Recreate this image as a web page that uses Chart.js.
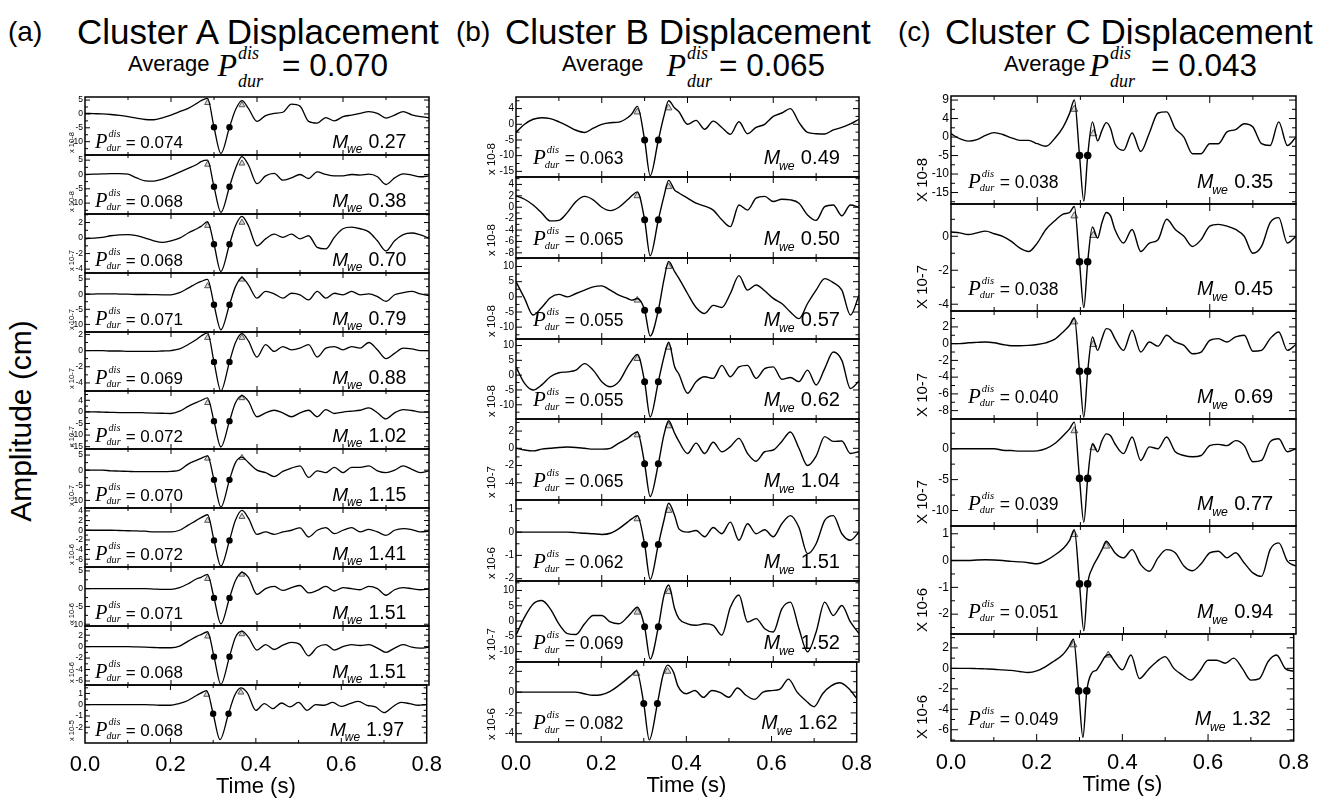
<!DOCTYPE html>
<html>
<head>
<meta charset="utf-8">
<script src="https://cdn.jsdelivr.net/npm/chart.js@4.4.1/dist/chart.umd.min.js"></script>
<style>
  html, body { margin: 0; padding: 0; background: #fff; }
  body { width: 1326px; height: 798px; position: relative; overflow: hidden;
         font-family: "Liberation Sans", Arial, sans-serif; color: #000; }
  .tag, .ttl, .sub { position: absolute; white-space: nowrap; line-height: 1; }
  .tag { font-size: 28px; }
  .ttl { font-size: 35px; }
  .sub { font-size: 31.5px; top: 39px; }
  .sub .avg { font-size: 22px; vertical-align: 5.5px; }
  .sub .P { font: italic 32px "Liberation Serif", serif; }
  .sub .ss { display: inline-flex; flex-direction: column; font: italic 18px "Liberation Serif", serif;
             line-height: 28px; vertical-align: 17px; margin-left: 1px; }
  .ylab { position: absolute; left: 21px; top: 421px; font-size: 30px; white-space: nowrap; line-height: 1;
          transform: translate(-50%, -50%) rotate(-90deg); }
</style>
</head>
<body>
<div class="tag" style="left:8px;top:18px">(a)</div>
<div class="ttl" style="left:77px;top:14px">Cluster A Displacement</div>
<div class="sub" style="left:128px"><span class="avg" style="margin-right:8px">Average</span><span class="P">P</span><span class="ss" style="margin-right:19px"><span>dis</span><span>dur</span></span>= 0.070</div>

<div class="tag" style="left:456px;top:18px">(b)</div>
<div class="ttl" style="left:505px;top:14px">Cluster B Displacement</div>
<div class="sub" style="left:562px"><span class="avg" style="margin-right:23px">Average</span><span class="P">P</span><span class="ss" style="margin-right:7px"><span>dis</span><span>dur</span></span>= 0.065</div>

<div class="tag" style="left:898px;top:18px">(c)</div>
<div class="ttl" style="left:945px;top:14px">Cluster C Displacement</div>
<div class="sub" style="left:1004px"><span class="avg" style="margin-right:4px">Average</span><span class="P">P</span><span class="ss" style="margin-right:16px"><span>dis</span><span>dur</span></span>= 0.043</div>

<div class="ylab">Amplitude (cm)</div>
<div id="wrap"></div>

<script>
// ---------- Cluster A ----------
const timeA = [0, 0.02, 0.04, 0.06, 0.08, 0.10, 0.12, 0.14, 0.16, 0.18, 0.20, 0.22, 0.24,
  0.26, 0.27, 0.285, 0.30, 0.316, 0.336, 0.35, 0.365, 0.38,
  0.40, 0.42, 0.44, 0.46, 0.48, 0.50, 0.52, 0.54, 0.56, 0.58, 0.60, 0.62, 0.64, 0.66, 0.68, 0.70, 0.72, 0.74, 0.76, 0.78, 0.80];

const a1 = [0.2, 0.1, 0, -0.2, -0.5, -1.0, -1.5, -2.0, -2.1, -1.4, -0.4, 0.8, 2.0,
  3.8, 4.8, 5.6, -4.8, -14.2, -4.8, 1.5, 4.8, 2.0,
  -2.7, -0.6, 0.2, 0.6, 3.5, 2.8, -2.7, -3.3, -1.3, -2.5, -1.0, -0.4, 0.2, 0.8, 0.2, -1.5, -0.4, 0.8, -0.3, -1.0, -1.4];
const a2 = [0, 0.1, 0.2, 0.3, 0.3, 0.1, -1.2, -2.2, -2.3, -1.6, -0.5, 0.8, 2.1,
  3.5, 4.5, 5.0, -4.3, -13.2, -4.3, 2.1, 6.2, 3.3,
  -3.2, -0.5, 0.4, -2.0, -1.2, 0.0, -1.4, 0.9, 0.0, -0.5, -0.5, 0.0, -0.2, 0.1, -0.8, -3.5, -1.2, 0.2, -0.2, -0.8, -0.5];
const a3 = [-0.1, 0.0, 0.1, 0.3, 0.4, 0.45, 0.3, 0.0, -0.35, -0.55, -0.35, 0.0, 0.65,
  1.2, 1.5, 2.1, -0.8, -4.3, -0.8, 1.6, 2.8, 1.6,
  -1.0, -0.1, 0.5, 0.1, 0.5, -0.1, 0.3, -1.2, -1.4, 0.1, 1.2, 1.4, 1.2, 0.8, -0.35, -1.65, -0.35, 0.45, 0.65, 0.4, 0.0];
const a4 = [0, 0.05, 0.1, 0.1, 0.05, 0, -0.1, -0.1, -0.15, -0.2, -0.2, 0.5, 2.0,
  3.6, 4.2, 4.9, -3.5, -11.8, -3.5, 2.5, 5.5, 3.1,
  -1.3, 0.9, 0.1, -1.3, 0.3, -0.2, -1.9, 0.9, -1.3, 0.3, -0.2, 0.9, -0.2, 0.1, -0.8, -2.4, -0.2, 0.5, 0.9, 0.1, -0.5];
const a5 = [0, 0, 0, -0.05, -0.05, -0.1, -0.1, -0.1, -0.1, -0.05, 0, 0.2, 0.75,
  1.4, 1.8, 2.2, -1.4, -5.0, -1.4, 1.0, 2.1, 1.2,
  -0.8, 0.75, -0.1, 0.5, 0.1, 0.3, 0.75, -0.8, 0.3, 0.5, 0.1, 0.5, 0.3, 1.0, 0.1, -1.0, -0.35, 0.3, 0.2, 0.0, 0.0];
const a6 = [0, 0, -0.1, -0.2, -0.3, -0.3, -0.3, -0.4, -0.5, -0.6, -0.7, 0.3, 2.4,
  4.1, 4.9, 6.0, -4.0, -15.1, -4.0, 3.9, 7.0, 4.6,
  -2.1, -0.4, 0.7, -0.4, -2.1, -0.4, 0.7, -2.1, 1.0, -0.7, -0.1, 0.3, 0.7, 1.7, -0.4, -3.0, -0.4, 1.0, 0.6, -0.1, -0.1];
const a7 = [0, 0, 0, -0.2, -0.3, -0.4, -0.5, -0.5, -0.5, -0.5, -0.4, 0.0, 2.0,
  3.3, 3.9, 4.7, -3.2, -12.2, -3.2, 2.5, 4.3, 2.5,
  0.0, -0.8, -2.1, -0.4, 0.7, 1.4, -2.4, -0.2, -0.8, 0.9, -0.8, 0.9, 0.9, 1.4, -0.2, -0.8, 0.0, 1.4, 0.3, -0.8, -0.2];
const a8 = [0, 0, 0, 0, -0.05, -0.1, -0.15, -0.2, -0.35, -0.35, -0.35, 0, 1.05,
  2.1, 2.6, 3.2, -2.1, -7.4, -2.1, 2.1, 4.1, 2.5,
  -0.85, -0.35, -0.85, -0.35, 0, 0.5, -1.4, 0, 0.55, -0.7, 0, 0.55, -0.35, 0.2, -0.35, -1.05, 0, 0.35, 0.15, -0.35, -0.2];
const a9 = [0, 0, 0, 0, 0, 0, 0, 0, -0.1, -0.2, -0.2, 0.3, 1.4,
  2.8, 3.2, 4.0, -2.6, -9.9, -2.6, 2.3, 4.6, 3.2,
  -1.6, 0, 0.65, -0.5, 0.3, 0.9, -1.2, -0.5, 0.65, -0.65, 0.3, 0, -0.3, 0.65, 0, -1.85, -0.3, 0.3, 0, -0.3, -0.1];
const a10 = [0, 0, 0, 0, 0, 0, -0.05, -0.1, -0.15, -0.2, -0.2, 0.1, 0.95,
  1.8, 2.1, 2.6, -1.75, -6.6, -1.75, 1.65, 2.7, 1.65,
  -0.6, 0.35, -0.5, 0.25, 0.75, 0.35, -1.6, -0.1, 0.35, -0.6, 0, 0.35, 0.2, 0.35, -0.25, -1.0, -0.25, 0.35, -0.1, -0.25, -0.1];
const a11 = [0, 0, 0, 0, 0, 0, 0, 0, -0.02, -0.05, -0.05, 0.1, 0.35,
  0.8, 1.0, 1.25, -0.8, -3.1, -0.8, 0.8, 1.5, 1.05,
  -0.5, 0.1, -0.35, 0.15, -0.2, 0.2, -0.5, 0, -0.05, 0.2, -0.15, 0.1, 0.3, -0.05, -0.2, -0.7, -0.2, 0.2, 0.1, -0.05, 0];

const rangeA = [[-14.8, 6.1], [-13.8, 6.8], [-4.5, 3.1], [-12.5, 7], [-5, 2.3], [-16, 9], [-12.5, 7], [-7.6, 4.6], [-10.5, 6.1], [-6.7, 3.6], [-3.4, 1.75]];
const ticksA = [[5, 0, -5, -10], [5, 0, -5, -10], [2, 0, -2, -4], [5, 0, -5, -10], [2, 0, -2, -4], [5, 0, -5, -10, -15],
  [5, 0, -5, -10], [4, 2, 0, -2, -4, -6], [5, 0, -5, -10], [2, 0, -2, -4, -6], [1, 0, -1, -2]];
const relabelA = { 5: { 5: '4' } };
const expA = ['-8', '-8', '-7', '-7', '-7', '-7', '-7', '-6', '-6', '-6', '-5'];
const pdurA = ['0.074', '0.068', '0.068', '0.071', '0.069', '0.072', '0.070', '0.072', '0.071', '0.068', '0.068'];
const mweA = ['0.27', '0.38', '0.70', '0.79', '0.88', '1.02', '1.15', '1.41', '1.51', '1.51', '1.97'];
const triTimeA = [0.285, 0.365];
const triA = [[4.0, 3.2], [3.5, 3.9], [1.6, 2.0], [2.7, 4.9], [1.6, 1.6], [3.9, 6.0], [3.9, 4.1], [2.0, 2.8], [2.8, 4.0], [1.8, 2.2], [0.9, 1.1]];
const dotTimeA = [0.30, 0.336];

// ---------- Cluster B ----------
const timeB = [0, 0.02, 0.04, 0.06, 0.08, 0.10, 0.12, 0.14, 0.16, 0.18, 0.20, 0.22, 0.24,
  0.26, 0.27, 0.283, 0.30, 0.313, 0.332, 0.345, 0.356, 0.37, 0.38,
  0.40, 0.42, 0.44, 0.46, 0.48, 0.50, 0.52, 0.54, 0.56, 0.58, 0.60, 0.62, 0.64, 0.66, 0.68, 0.70, 0.72, 0.74, 0.76, 0.78, 0.80];

const b1 = [-2.6, 0, 1.6, 2.1, 1.8, 0.8, -0.5, -1.9, -2.6, -1.25, 0, 0.5, 0.7,
  2.1, 3.3, 5.7, -5.0, -16.4, -5.0, 2.6, 7.5, 5.2, 4.0,
  0.0, 1.25, -1.6, 1.0, -1.0, -3.2, 0.8, -3.0, -1.0, 0.0, 2.5, 3.6, 5.0, 0.6, -2.6, -3.0, -3.1, -1.8, -1.0, 0.1, 1.6];
const b2 = [2.0, 1.4, 0.4, -1.0, -2.4, -2.3, -0.9, 1.0, 1.9, 1.3, 0.0, -0.6, 0.0,
  1.3, 2.0, 2.7, -2.2, -8.5, -2.2, 1.9, 4.7, 3.0, 2.5,
  1.6, 0.7, 0.2, -0.5, -2.2, -3.4, 0.4, -0.5, 1.6, 1.9, 1.0, 1.4, 1.3, 0.7, -1.35, -2.3, 0.1, 0.4, -1.5, 0.4, 0.0];
const b3 = [5.0, -0.5, -6.0, -3.5, -0.3, 0.8, 0.0, 1.1, 2.2, 3.3, 3.6, 2.2, 0.55,
  -0.55, -1.1, -0.55, -4.4, -12.9, -4.4, 5.6, 11.7, 8.3, 6.1,
  1.1, -3.5, -5.5, -2.8, -3.5, 1.1, 7.0, 2.2, 3.9, 2.0, -0.5, -2.2, -5.0, -7.2, -2.2, 2.2, 6.0, 4.7, 2.2, -6.0, 0.5];
const b4 = [2.8, -2.8, -5.0, -3.3, -0.55, 0.8, 1.1, 1.7, 3.9, 1.7, -2.2, -3.9, -2.2,
  2.8, 5.0, 7.0, -2.2, -14.1, -2.2, 6.1, 11.1, 2.8, 0.3,
  -6.1, -2.2, -0.55, -1.1, 3.3, -0.55, 2.8, 3.3, -1.1, 2.2, 2.8, -1.4, -0.8, -2.2, 1.7, -3.3, 2.2, 7.8, 5.0, -4.5, -2.0];
const b5 = [0, -0.2, -0.3, -0.1, 0, 0.1, 0.15, 0.1, 0, -0.1, -0.1, 0, 0.6,
  1.15, 1.55, 1.9, -1.8, -5.6, -1.8, 1.55, 3.2, 1.75, 0.8,
  -0.6, 0.6, -0.6, 0.7, -0.4, 0.2, 1.15, -0.6, -1.5, -0.4, -0.2, 0.8, 1.9, 0.0, -2.0, -0.9, 1.35, 0.8, 0.85, -0.6, -0.4];
const b6 = [0, 0, 0, 0, 0, 0, 0, -0.02, -0.05, -0.07, -0.1, -0.05, 0.15,
  0.43, 0.57, 0.71, -0.53, -2.03, -0.53, 0.5, 1.24, 0.71, 0.14,
  0, 0.07, -0.2, 0.2, -0.07, 0.43, -0.35, 0.36, -0.07, 0.1, -0.2, 0.36, 0.71, 0.2, -0.93, -0.5, 0.5, 0.71, -0.07, -0.35, 0];
const b7 = [-4.6, 1.3, 5.6, 6.7, 4.0, -0.9, -4.1, -4.4, -0.9, 1.8, 1.8, -0.3, -0.9,
  1.3, 2.9, 4.5, -1.9, -12.4, -1.9, 8.3, 11.8, 4.0, 0.8,
  -0.9, -1.4, -0.9, -1.4, -4.6, 4.5, 8.5, -0.3, 0.8, -2.5, -3.6, 4.0, 6.2, -2.5, -10.1, -3.6, 6.2, 1.8, 5.1, -0.3, -4.1];
const b8 = [0, 0, 0, 0, 0, 0, 0, 0, -0.15, -0.3, -0.25, 0.05, 0.6,
  1.25, 1.6, 2.05, -1.1, -4.6, -1.1, 1.6, 2.6, 1.9, 0.6,
  -0.15, 0.15, -0.5, 0.15, -0.05, -0.5, 0.4, -0.3, -0.7, 0, 0.15, 0.3, 1.25, 0, -0.8, -1.4, -0.15, 0.6, 0.9, 0.4, -0.6];

const rangeB = [[-16.8, 8.7], [-8.9, 5.3], [-13.9, 12.8], [-14.8, 12.2], [-6, 3.4], [-2.1, 1.38], [-13.4, 13.1], [-4.8, 2.9]];
const ticksB = [[5, 0, -5, -10, -15], [4, 2, 0, -2, -4, -6, -8], [10, 5, 0, -5, -10], [10, 5, 0, -5, -10],
  [2, 0, -2, -4], [1, 0, -1, -2], [10, 5, 0, -5, -10], [2, 0, -2, -4]];
const relabelB = { 0: { 5: '4' } };
const expB = ['-8', '-8', '-8', '-8', '-7', '-6', '-7', '-6'];
const pdurB = ['0.063', '0.065', '0.055', '0.055', '0.065', '0.062', '0.069', '0.082'];
const mweB = ['0.49', '0.50', '0.57', '0.62', '1.04', '1.51', '1.52', '1.62'];
const triTimeB = [0.283, 0.356];
const triB = [[3.9, 5.2], [2.0, 3.6], [-1.1, 10.0], [5.6, 9.4], [1.55, 2.6], [0.57, 0.93], [2.9, 9.6], [1.8, 2.0]];
const dotTimeB = [0.30, 0.332];

// ---------- Cluster C ----------
const timeC = [0, 0.02, 0.04, 0.06, 0.08, 0.10, 0.12, 0.14, 0.16, 0.18, 0.20, 0.22, 0.24,
  0.26, 0.275, 0.286, 0.298, 0.308, 0.317, 0.328, 0.34, 0.35, 0.36, 0.37, 0.38,
  0.40, 0.42, 0.44, 0.46, 0.48, 0.50, 0.52, 0.54, 0.56, 0.58, 0.60, 0.62, 0.64, 0.66, 0.68, 0.70, 0.72, 0.74, 0.76, 0.78, 0.80];

const c1 = [0.9, -0.45, -1.1, -0.7, 0.45, 1.2, 0.7, -0.2, -0.9, -0.9, -1.8, -2.5, -0.45,
  2.7, 6.4, 10.0, -5.0, -17.3, -5.0, 4.1, -1.0, 1.8, 3.9, 2.3, -1.8,
  -3.6, 1.1, -3.9, 1.1, 6.5, 6.8, 2.3, 0, -4.5, -4.5, -1.8, -1.8, 1.4, 2.0, 3.6, 2.7, -1.8, -2.3, 4.1, -2.3, 0];
const c2 = [0.25, 0.2, 0.1, 0.2, 0.3, 0.15, 0, -0.3, -0.7, -0.9, -0.4, 0.4, 0.9,
  1.3, 1.4, 1.75, -1.5, -4.2, -1.5, 0.55, -0.1, 0.8, 1.4, 1.2, 0.4,
  -0.4, 0.4, -0.9, -0.4, -0.2, 1.0, 0.4, 0, -0.6, -0.2, 0.6, 0.7, 0.6, 0.4, 0, -1.0, -0.6, 0.8, 1.1, -0.4, 0];
const c3 = [0, 0, 0.1, 0.15, 0.2, 0.1, -0.1, -0.25, -0.25, -0.2, -0.1, 0.1, 0.5,
  1.4, 2.2, 3.1, -3.3, -8.8, -3.3, 0.8, -0.8, 0.6, 1.8, 1.6, 0.6,
  -0.8, 1.6, -1.0, 0.2, -0.3, 1.0, 0.2, -0.2, -1.2, -1.0, 0.4, 0.6, 0.2, 0.8, 1.0, -0.9, -0.8, 0.6, 1.4, -0.8, -0.1];
const c4 = [0, 0, 0, 0, 0, 0, -0.25, -0.3, -0.4, -0.4, -0.35, 0, 0.8,
  2.1, 3.2, 4.3, -4.8, -11.9, -4.8, 0.8, -0.5, 1.3, 2.4, 2.1, 0.8,
  -0.8, 1.9, -1.9, 0.3, 0, 1.9, -0.5, -1.1, -1.3, -1.1, 0.5, 0.7, 0.5, 1.3, 0.5, -2.1, -1.9, 1.1, 1.6, -0.5, 0];
const c5 = [0, 0, 0, 0.02, 0.03, 0.02, 0, -0.03, -0.05, -0.08, -0.12, 0.0, 0.2,
  0.45, 0.75, 1.15, -0.87, -2.62, -0.87, -0.27, 0.1, 0.41, 0.72, 0.54, 0.29,
  0.1, 0.41, -0.15, -0.4, 0.1, 0.41, 0.29, -0.2, -0.38, -0.12, 0.29, 0.35, 0.1, 0.29, -0.09, -0.46, -0.59, 0.41, 0.66, -0.02, -0.21];
const c6 = [0, 0, 0, -0.02, -0.05, -0.08, -0.15, -0.2, -0.3, -0.4, -0.25, 0.15, 0.7,
  1.3, 2.1, 2.85, -2.2, -6.75, -2.2, -0.5, -0.15, 0.5, 1.15, 1.35, 0.8,
  -0.15, 1.3, -1.0, -0.15, 0.65, 1.15, 0, -0.65, -1.15, -0.3, 0.8, 0.8, 0.5, 1.0, 0, -1.15, -1.0, 0.65, 1.3, 0, -0.3];

const rangeC = [[-18.1, 11.1], [-4.4, 1.9], [-9, 3.9], [-12.5, 4.8], [-2.74, 1.29], [-7.1, 3.36]];
const ticksC = [[10, 5, 0, -5, -10, -15], [0, -2, -4], [2, 0, -2, -4, -6, -8], [0, -5, -10], [1, 0, -1, -2], [2, 0, -2, -4, -6]];
const relabelC = { 0: { 10: '9', 5: '4' } };
const expC = ['-8', '-7', '-7', '-7', '-6', '-6'];
const pdurC = ['0.038', '0.038', '0.040', '0.039', '0.051', '0.049'];
const mweC = ['0.35', '0.45', '0.69', '0.77', '0.94', '1.32'];
const triTimeC = [[0.286, 0.33], [0.286, 0.33], [0.286, 0.33], [0.286, 0.33], [0.286, 0.36], [0.286, 0.367]];
const triC = [[7.5, 0.9], [1.2, 0.05], [2.6, -0.1], [2.9, 0.15], [0.97, 0.54], [2.3, 1.3]];
const dotTimeC = [0.298, 0.317];

// ---------- layout / style ----------
const columns = [
  { time: timeA, series: [a1, a2, a3, a4, a5, a6, a7, a8, a9, a10, a11], range: rangeA, ticks: ticksA, relabel: relabelA,
    exp: expA, pdur: pdurA, mwe: mweA, triT: triTimeA, triY: triA, dotT: dotTimeA,
    left: 85, right: 429.3, top: 96.7, bottom: 743.3, padL: 32, xw: 'x',
    st: { tickFs: 8.5, expFs: 7.5, expDx: 13, xMajor: 5, xMinor: 3, yMajor: 5, yMinor: 3, frameW: 1.5 },
    lineW: 1.3, dotR: 3.2, triR: 3.4, notes: { fs: 17, px: 10, base: 7.5, mr: 22.6 } },
  { time: timeB, series: [b1, b2, b3, b4, b5, b6, b7, b8], range: rangeB, ticks: ticksB, relabel: relabelB,
    exp: expB, pdur: pdurB, mwe: mweB, triT: triTimeB, triY: triB, dotT: dotTimeB,
    left: 516, right: 859.3, top: 96.7, bottom: 742.3, padL: 42, xw: 'x',
    st: { tickFs: 10, expFs: 11.5, expDx: 24, xMajor: 6, xMinor: 4, yMajor: 6, yMinor: 3.5, frameW: 1.5 },
    lineW: 1.4, dotR: 3.5, triR: 3.8, notes: { fs: 17.5, px: 17, base: 13, mr: 19 } },
  { time: timeC, series: [c1, c2, c3, c4, c5, c6], range: rangeC, ticks: ticksC, relabel: relabelC,
    exp: expC, pdur: pdurC, mwe: mweC, triT: triTimeC, triY: triC, dotT: dotTimeC,
    left: 951, right: 1295.7, top: 96, bottom: 741, padL: 46, xw: 'X',
    st: { tickFs: 12, expFs: 15, expDx: 28, xMajor: 7, xMinor: 4, yMajor: 7, yMinor: 4, frameW: 1.5 },
    lineW: 1.4, dotR: 3.8, triR: 4, notes: { fs: 17.5, px: 17, base: 16.5, mr: 22.7 } }
];

const SANS = '"Liberation Sans", Arial, sans-serif';
const SERIF = '"Liberation Serif", "Times New Roman", serif';
Chart.defaults.font.family = SANS;
Chart.defaults.color = '#000';

function drawNotes(ctx, a, n, pd, mw) {
  const s = n.fs, yb = a.bottom - n.base;
  ctx.fillStyle = '#000';
  ctx.textAlign = 'left';
  ctx.textBaseline = 'alphabetic';
  let x0 = a.left + n.px;
  ctx.font = `italic ${s * 1.2}px ${SERIF}`;
  ctx.fillText('P', x0, yb);
  x0 += ctx.measureText('P').width;
  ctx.font = `italic ${s * 0.6}px ${SERIF}`;
  ctx.fillText('dis', x0 + 1, yb - s * 0.62);
  ctx.fillText('dur', x0 - 1, yb + s * 0.2);
  x0 += Math.max(ctx.measureText('dis').width + 1, ctx.measureText('dur').width - 1) + s * 0.3;
  ctx.font = `${s}px ${SANS}`;
  ctx.fillText('= ' + pd, x0, yb);

  // M_we value, right aligned
  ctx.font = `${s * 1.15}px ${SANS}`;
  const wNum = ctx.measureText(mw).width;
  ctx.font = `italic ${s * 0.7}px ${SANS}`;
  const wWe = ctx.measureText('we').width;
  ctx.font = `italic ${s * 1.12}px ${SANS}`;
  const wM = ctx.measureText('M').width;
  const gap = s * 0.3;
  const xm = a.right - n.mr - (wM + wWe + gap + wNum);
  ctx.fillText('M', xm, yb);
  ctx.font = `italic ${s * 0.7}px ${SANS}`;
  ctx.fillText('we', xm + wM - 1, yb + s * 0.35);
  ctx.font = `${s * 1.15}px ${SANS}`;
  ctx.fillText(mw, xm + wM + wWe + gap, yb);
}

// frame with inward ticks, y labels, exponent and the two annotations
const framePlugin = {
  id: 'frame',
  afterDatasetsDraw(chart, args, o) {
    const { ctx, chartArea: a, scales: { x, y } } = chart;
    const st = o.st;
    ctx.save();
    ctx.strokeStyle = '#000';
    ctx.fillStyle = '#000';
    ctx.lineWidth = 1;
    ctx.beginPath();
    for (let i = 1; i < 8; i++) {
      const px = x.getPixelForValue(i / 10);
      const len = i % 2 ? st.xMinor : st.xMajor;
      ctx.moveTo(px, a.top); ctx.lineTo(px, a.top + len);
      ctx.moveTo(px, a.bottom); ctx.lineTo(px, a.bottom - len);
    }
    const step = Math.abs(o.ticks[0] - o.ticks[1]);
    const minor = o.ticks.map(v => v - step / 2).concat(o.ticks[0] + step / 2)
      .filter(v => v > y.min && v < y.max);
    const mark = (v, len) => {
      const py = y.getPixelForValue(v);
      ctx.moveTo(a.left, py); ctx.lineTo(a.left + len, py);
      ctx.moveTo(a.right, py); ctx.lineTo(a.right - len, py);
    };
    o.ticks.forEach(v => mark(v, st.yMajor));
    minor.forEach(v => mark(v, st.yMinor));
    ctx.stroke();
    ctx.lineWidth = st.frameW;
    ctx.strokeRect(a.left, a.top, a.right - a.left, a.bottom - a.top);

    ctx.font = `${st.tickFs}px ${SANS}`;
    ctx.textAlign = 'right';
    ctx.textBaseline = 'middle';
    o.ticks.forEach(v => ctx.fillText(o.fix[v] || String(v), a.left - 2, y.getPixelForValue(v)));

    ctx.save();
    ctx.translate(a.left - st.expDx, a.bottom - 2);
    ctx.rotate(-Math.PI / 2);
    ctx.font = `${st.expFs}px ${SANS}`;
    ctx.textAlign = 'left';
    ctx.fillText(o.expText, 0, 0);
    ctx.restore();

    drawNotes(ctx, a, o.notes, o.pdur, o.mwe);
    ctx.restore();
  }
};

const wrap = document.getElementById('wrap');
const axisH = 57, padR = 22, padV = 6;

columns.forEach(col => {
  const n = col.series.length, h = (col.bottom - col.top) / n;
  const L = Math.round(col.left), W = Math.round(col.right - col.left);
  col.series.forEach((s, p) => {
    const last = p === n - 1;
    const y0 = Math.round(col.top + p * h), y1 = Math.round(col.top + (p + 1) * h);
    const cw = W + col.padL + padR, ch = y1 - y0 + 2 * padV + (last ? axisH : 0);
    const cv = document.createElement('canvas');
    cv.width = cw; cv.height = ch;
    cv.style.cssText = `position:absolute;left:${L - col.padL}px;top:${y0 - padV}px;width:${cw}px;height:${ch}px`;
    wrap.appendChild(cv);

    const wave = col.time.map((t, i) => ({ x: t, y: s[i] }));
    const triT = Array.isArray(col.triT[0]) ? col.triT[p] : col.triT;
    const tris = triT.map((t, k) => ({ x: t, y: col.triY[p][k] }));
    const dots = col.dotT.map(t => ({ x: t, y: s[col.time.indexOf(t)] }));

    const xScale = {
      type: 'linear', min: 0, max: 0.8, display: last,
      grid: { display: false, drawTicks: false }, border: { display: false },
      ticks: { stepSize: 0.2, color: '#000', font: { size: 22 }, padding: 9,
               maxRotation: 0, autoSkip: false, callback: v => v.toFixed(1) },
      title: { display: true, text: 'Time (s)', color: '#000', font: { size: 22 }, padding: 0 }
    };
    if (last) xScale.afterFit = sc => { sc.height = axisH; };

    new Chart(cv, {
      type: 'line',
      data: {
        datasets: [
          { data: wave, borderColor: '#000', borderWidth: col.lineW, pointRadius: 0,
            cubicInterpolationMode: 'monotone', fill: false },
          { data: tris, showLine: false, pointStyle: 'triangle', pointRadius: col.triR,
            borderColor: '#555', backgroundColor: '#d9d9d9', borderWidth: 1 },
          { data: dots, showLine: false, pointStyle: 'circle', pointRadius: col.dotR,
            borderColor: '#000', backgroundColor: '#000', borderWidth: 0 }
        ]
      },
      options: {
        responsive: false,
        animation: false,
        events: [],
        layout: { padding: { left: col.padL, right: padR, top: padV, bottom: padV } },
        plugins: {
          legend: { display: false },
          tooltip: { enabled: false },
          frame: {
            st: col.st, ticks: col.ticks[p], fix: (col.relabel[p] || {}),
            expText: `${col.xw} 10${col.exp[p]}`, notes: col.notes,
            pdur: col.pdur[p], mwe: col.mwe[p]
          }
        },
        scales: {
          x: xScale,
          y: { min: col.range[p][0], max: col.range[p][1], display: false }
        }
      },
      plugins: [framePlugin]
    });
  });
});
</script>
</body>
</html>
